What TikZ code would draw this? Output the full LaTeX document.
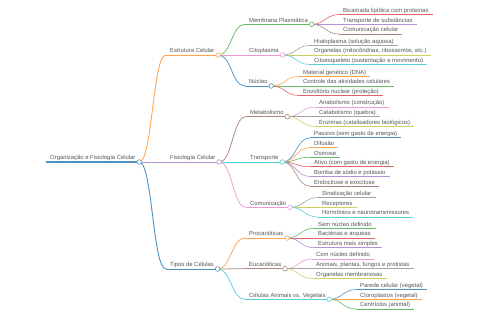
\documentclass[tikz,border=0pt]{standalone}
\usepackage{fontspec}
\setmainfont{Liberation Sans}
\usetikzlibrary{calc}
\pgfdeclarelayer{bg}
\pgfsetlayers{bg,main}
\definecolor{b0}{HTML}{1F77B4}
\definecolor{b1}{HTML}{FF7F0E}
\definecolor{b2}{HTML}{2CA02C}
\definecolor{b3}{HTML}{D62728}
\definecolor{b4}{HTML}{9467BD}
\definecolor{b5}{HTML}{8C564B}
\definecolor{b6}{HTML}{E377C2}
\definecolor{b7}{HTML}{7F7F7F}
\definecolor{b8}{HTML}{BCBD22}
\definecolor{b9}{HTML}{17BECF}
\colorlet{c0}{b0!80!white}
\colorlet{c1}{b1!72!white}
\colorlet{c2}{b2!72!white}
\colorlet{c3}{b3!72!white}
\colorlet{c4}{b4!72!white}
\colorlet{c5}{b5!72!white}
\colorlet{c6}{b6!72!white}
\colorlet{c7}{b7!72!white}
\colorlet{c8}{b8!72!white}
\colorlet{c9}{b9!72!white}
\definecolor{txt}{HTML}{555555}
\tikzset{
  lbl/.style={font=\fontsize{5.9}{7}\selectfont, text=txt, inner xsep=4pt, inner ysep=0pt,
    text height=4.4pt, text depth=1.9pt, anchor=south west},
  mmdot/.style={circle, draw=#1, fill=white, line width=0.6pt, inner sep=0pt, minimum size=4.6pt},
  w0/.style={line width=1.1pt},
  w1/.style={line width=0.9pt},
  w2/.style={line width=0.75pt},
  w3/.style={line width=0.6pt},
}
\newcommand\mmline[3]{%
  \begin{pgfonlayer}{bg}\draw[#2,#3] (#1.south west) -- (#1.south east);\end{pgfonlayer}}
\newcommand\mmconn[4]{%
  \begin{pgfonlayer}{bg}\draw[#3,#4] let \p1=(#1.center), \p2=(#2.south west) in
    (\p1) .. controls ({0.5*\x1+0.5*\x2},\y1) and ({0.5*\x1+0.5*\x2},\y2) .. (\p2);\end{pgfonlayer}}
\newcommand\mmdotat[2]{\node[mmdot=#2] (#1d) at ([xshift=-0.5pt]#1.south east) {};}
\begin{document}
\begin{tikzpicture}[x=1pt,y=-1pt]
\useasboundingbox (0,0) rectangle (480,320);
% root
\node[lbl] (root) at (46,162) {Organização e Fisiologia Celular};
\mmline{root}{c0}{w0}\mmdotat{root}{c0}
% Estrutura Celular
\node[lbl] (est) at (166,55) {Estrutura Celular};
\mmline{est}{c1}{w1}\mmconn{rootd}{est}{c1}{w1}\mmdotat{est}{c1}
\node[lbl] (mem) at (245,24.3) {Membrana Plasmática};
\mmline{mem}{c2}{w2}\mmconn{estd}{mem}{c2}{w2}\mmdotat{mem}{c2}
\node[lbl] (m1) at (339,14.6) {Bicamada lipídica com proteínas};
\mmline{m1}{c3}{w3}\mmconn{memd}{m1}{c3}{w3}
\node[lbl] (m2) at (339,24.3) {Transporte de substâncias};
\mmline{m2}{c4}{w3}\mmconn{memd}{m2}{c4}{w3}
\node[lbl] (m3) at (339,34) {Comunicação celular};
\mmline{m3}{c5}{w3}\mmconn{memd}{m3}{c5}{w3}
\node[lbl] (cit) at (245,55) {Citoplasma};
\mmline{cit}{c6}{w2}\mmconn{estd}{cit}{c6}{w2}\mmdotat{cit}{c6}
\node[lbl] (ci1) at (310,45.5) {Hialoplasma (solução aquosa)};
\mmline{ci1}{c7}{w3}\mmconn{citd}{ci1}{c7}{w3}
\node[lbl] (ci2) at (310,55) {Organelas (mitocôndrias, ribossomos, etc.)};
\mmline{ci2}{c8}{w3}\mmconn{citd}{ci2}{c8}{w3}
\node[lbl] (ci3) at (310,64.5) {Citoesqueleto (sustentação e movimento)};
\mmline{ci3}{c9}{w3}\mmconn{citd}{ci3}{c9}{w3}
\node[lbl] (nuc) at (245,86) {Núcleo};
\mmline{nuc}{c0}{w2}\mmconn{estd}{nuc}{c0}{w2}\mmdotat{nuc}{c0}
\node[lbl] (n1) at (299,76.5) {Material genético (DNA)};
\mmline{n1}{c1}{w3}\mmconn{nucd}{n1}{c1}{w3}
\node[lbl] (n2) at (299,86) {Controle das atividades celulares};
\mmline{n2}{c2}{w3}\mmconn{nucd}{n2}{c2}{w3}
\node[lbl] (n3) at (299,95.5) {Envoltório nuclear (proteção)};
\mmline{n3}{c3}{w3}\mmconn{nucd}{n3}{c3}{w3}
% Fisiologia Celular
\node[lbl] (fis) at (166,162) {Fisiologia Celular};
\mmline{fis}{c4}{w1}\mmconn{rootd}{fis}{c4}{w1}\mmdotat{fis}{c4}
\node[lbl] (met) at (246,116.7) {Metabolismo};
\mmline{met}{c5}{w2}\mmconn{fisd}{met}{c5}{w2}\mmdotat{met}{c5}
\node[lbl] (me1) at (315,107) {Anabolismo (construção)};
\mmline{me1}{c6}{w3}\mmconn{metd}{me1}{c6}{w3}
\node[lbl] (me2) at (315,116.7) {Catabolismo (quebra)};
\mmline{me2}{c7}{w3}\mmconn{metd}{me2}{c7}{w3}
\node[lbl] (me3) at (315,126.4) {Enzimas (catalisadores biológicos)};
\mmline{me3}{c8}{w3}\mmconn{metd}{me3}{c8}{w3}
\node[lbl] (tra) at (246,162) {Transporte};
\mmline{tra}{c9}{w2}\mmconn{fisd}{tra}{c9}{w2}\mmdotat{tra}{c9}
\node[lbl] (t1) at (310,137.8) {Passivo (sem gasto de energia)};
\mmline{t1}{c0}{w3}\mmconn{trad}{t1}{c0}{w3}
\node[lbl] (t2) at (310,147.5) {Difusão};
\mmline{t2}{c1}{w3}\mmconn{trad}{t2}{c1}{w3}
\node[lbl] (t3) at (310,157.2) {Osmose};
\mmline{t3}{c2}{w3}\mmconn{trad}{t3}{c2}{w3}
\node[lbl] (t4) at (310,166.8) {Ativo (com gasto de energia)};
\mmline{t4}{c3}{w3}\mmconn{trad}{t4}{c3}{w3}
\node[lbl] (t5) at (310,176.5) {Bomba de sódio e potássio};
\mmline{t5}{c4}{w3}\mmconn{trad}{t5}{c4}{w3}
\node[lbl] (t6) at (310,186.2) {Endocitose e exocitose};
\mmline{t6}{c5}{w3}\mmconn{trad}{t6}{c5}{w3}
\node[lbl] (com) at (246,207.3) {Comunicação};
\mmline{com}{c6}{w2}\mmconn{fisd}{com}{c6}{w2}\mmdotat{com}{c6}
\node[lbl] (co1) at (318,197.6) {Sinalização celular};
\mmline{co1}{c7}{w3}\mmconn{comd}{co1}{c7}{w3}
\node[lbl] (co2) at (318,207.3) {Receptores};
\mmline{co2}{c8}{w3}\mmconn{comd}{co2}{c8}{w3}
\node[lbl] (co3) at (318,217) {Hormônios e neurotransmissores};
\mmline{co3}{c9}{w3}\mmconn{comd}{co3}{c9}{w3}
% Tipos de Células
\node[lbl] (tip) at (166,269) {Tipos de Células};
\mmline{tip}{c0}{w1}\mmconn{rootd}{tip}{c0}{w1}\mmdotat{tip}{c0}
\node[lbl] (pro) at (245,238) {Procarióticas};
\mmline{pro}{c1}{w2}\mmconn{tipd}{pro}{c1}{w2}\mmdotat{pro}{c1}
\node[lbl] (p1) at (314,228.3) {Sem núcleo definido};
\mmline{p1}{c2}{w3}\mmconn{prod}{p1}{c2}{w3}
\node[lbl] (p2) at (314,238) {Bactérias e arqueas};
\mmline{p2}{c3}{w3}\mmconn{prod}{p2}{c3}{w3}
\node[lbl] (p3) at (314,247.7) {Estrutura mais simples};
\mmline{p3}{c4}{w3}\mmconn{prod}{p3}{c4}{w3}
\node[lbl] (euc) at (245,268.7) {Eucarióticas};
\mmline{euc}{c5}{w2}\mmconn{tipd}{euc}{c5}{w2}\mmdotat{euc}{c5}
\node[lbl] (e1) at (312,259) {Com núcleo definido};
\mmline{e1}{c6}{w3}\mmconn{eucd}{e1}{c6}{w3}
\node[lbl] (e2) at (312,268.7) {Animais, plantas, fungos e protistas};
\mmline{e2}{c7}{w3}\mmconn{eucd}{e2}{c7}{w3}
\node[lbl] (e3) at (312,278.4) {Organelas membranosas};
\mmline{e3}{c8}{w3}\mmconn{eucd}{e3}{c8}{w3}
\node[lbl] (cel) at (245,299.3) {Células Animais vs. Vegetais};
\mmline{cel}{c9}{w2}\mmconn{tipd}{cel}{c9}{w2}\mmdotat{cel}{c9}
\node[lbl] (v1) at (356,289.6) {Parede celular (vegetal)};
\mmline{v1}{c0}{w3}\mmconn{celd}{v1}{c0}{w3}
\node[lbl] (v2) at (356,299.3) {Cloroplastos (vegetal)};
\mmline{v2}{c1}{w3}\mmconn{celd}{v2}{c1}{w3}
\node[lbl] (v3) at (356,309) {Centríolos (animal)};
\mmline{v3}{c2}{w3}\mmconn{celd}{v3}{c2}{w3}
\end{tikzpicture}
\end{document}
